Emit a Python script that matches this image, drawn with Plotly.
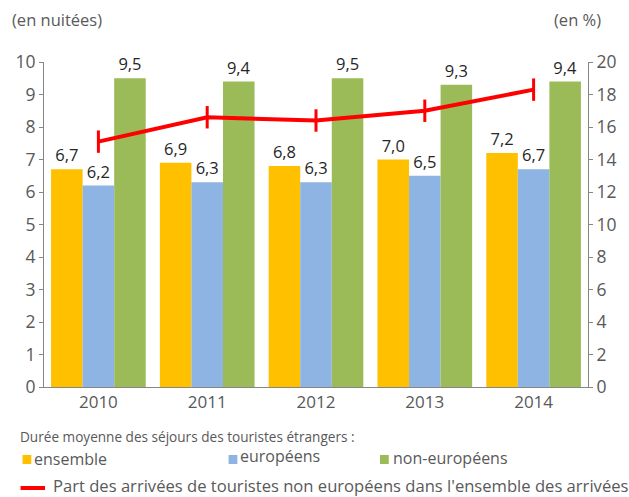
import plotly.graph_objects as go

years = ["2010", "2011", "2012", "2013", "2014"]
ensemble = [6.7, 6.9, 6.8, 7.0, 7.2]
europeens = [6.2, 6.3, 6.3, 6.5, 6.7]
non_europeens = [9.5, 9.4, 9.5, 9.3, 9.4]
part_non_eur = [15.1, 16.6, 16.4, 17.0, 18.3]

c_ens = "#FFC000"
c_eur = "#8EB4E3"
c_non = "#9BBB59"
c_red = "#FF0000"
tick_col = "#595959"
lab_col = "#262626"
FONT = "Open Sans"

fig = go.Figure()
for name, vals, col in [("ensemble", ensemble, c_ens),
                        ("européens", europeens, c_eur),
                        ("non-européens", non_europeens, c_non)]:
    fig.add_trace(go.Bar(
        x=years, y=vals, name=name, marker=dict(color=col, line=dict(width=0)),
        text=[f"{v:.1f}".replace(".", ",") for v in vals],
        textposition="outside", cliponaxis=False,
        textfont=dict(family=FONT, size=16.5, color=lab_col),
        showlegend=False,
    ))

fig.add_trace(go.Scatter(
    x=years, y=part_non_eur, yaxis="y2", mode="lines+markers",
    line=dict(color=c_red, width=4),
    marker=dict(symbol="line-ns", size=16, line=dict(color=c_red, width=3)),
    showlegend=False,
))

fig.update_layout(
    width=629, height=497,
    margin=dict(l=44, r=28, t=62, b=110),
    plot_bgcolor="white", paper_bgcolor="white",
    barmode="group", bargap=0.13, bargroupgap=0,
    font=dict(family=FONT, color=tick_col),
    xaxis=dict(
        showline=True, linecolor="#868686", linewidth=1,
        ticks="", tickfont=dict(size=17, color=tick_col),
        showgrid=False, zeroline=False,
    ),
    yaxis=dict(
        range=[0, 10], dtick=1, showline=True, linecolor="#868686", linewidth=1,
        ticks="outside", ticklen=4, tickcolor="#868686",
        tickfont=dict(size=17.5, color=tick_col), showgrid=False, zeroline=False,
    ),
    yaxis2=dict(
        range=[0, 20], dtick=2, overlaying="y", side="right",
        showline=True, linecolor="#868686", linewidth=1,
        ticks="outside", ticklen=4, tickcolor="#868686",
        tickfont=dict(size=17.5, color=tick_col), showgrid=False, zeroline=False,
    ),
)

def px_x(x):
    return (x - 44) / (629 - 44 - 28)

def px_y(y):
    return 1 - (y - 62) / (497 - 62 - 110)

annotations = [
    dict(text="(en nuitées)", x=9, y=20, size=16.5),
    dict(text="(en %)", x=564, y=20, size=16.5),
    dict(text="Durée moyenne des séjours des touristes étrangers :", x=17, y=436, size=13.6),
    dict(text="ensemble", x=32, y=459, size=16),
    dict(text="européens", x=243, y=456, size=16),
    dict(text="non-européens", x=399, y=458, size=16),
    dict(text="Part des arrivées de touristes non européens dans l'ensemble des arrivées", x=51, y=486, size=16.6),
]
for a in annotations:
    fig.add_annotation(
        text=a["text"], xref="paper", yref="paper",
        x=px_x(a["x"]), y=px_y(a["y"]),
        xanchor="left", yanchor="middle", showarrow=False,
        font=dict(family=FONT, size=a["size"], color=tick_col),
    )

for col, x0 in [(c_ens, 22), (c_eur, 233), (c_non, 388)]:
    fig.add_shape(type="rect", xref="paper", yref="paper",
                  x0=px_x(x0), x1=px_x(x0 + 9), y0=px_y(464), y1=px_y(455),
                  fillcolor=col, line=dict(width=0))
fig.add_shape(type="line", xref="paper", yref="paper",
              x0=px_x(20), x1=px_x(45), y0=px_y(488), y1=px_y(488),
              line=dict(color=c_red, width=4))

fig.write_html("out.html")
